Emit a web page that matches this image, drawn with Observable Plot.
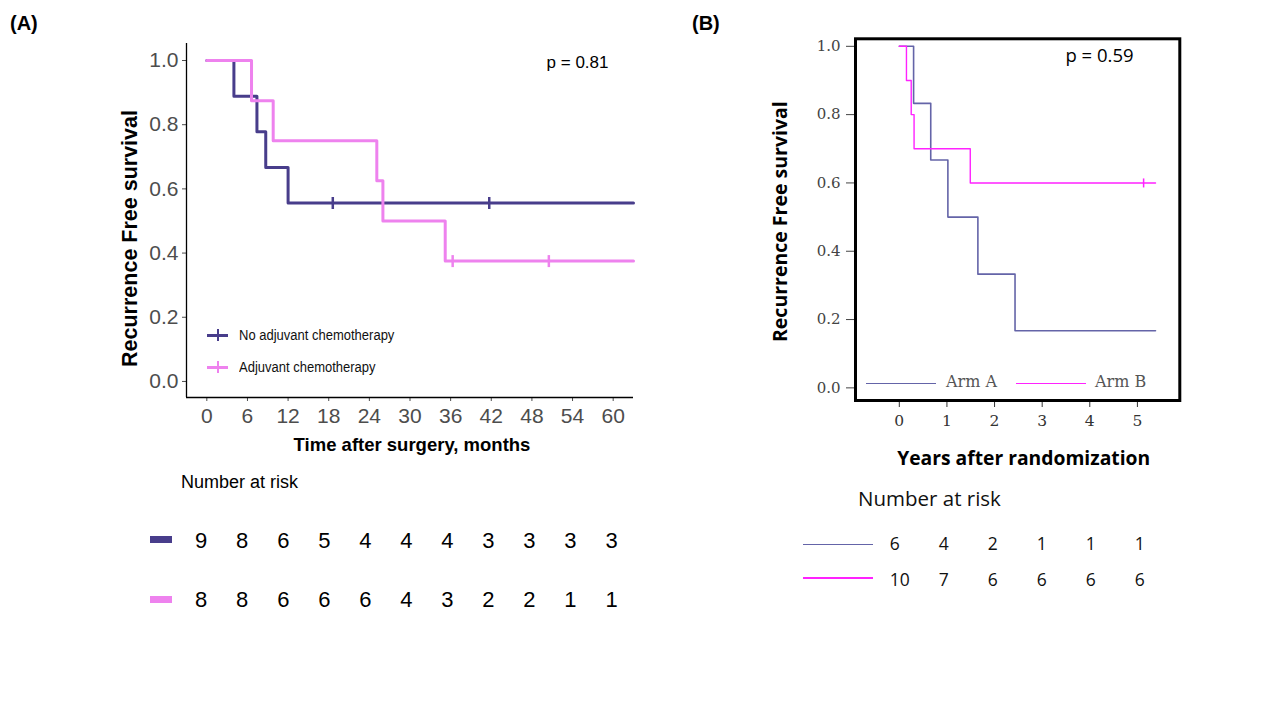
<!DOCTYPE html>
<html>
<head>
<meta charset="utf-8">
<script src="https://cdn.jsdelivr.net/npm/d3@7"></script>
<script src="https://cdn.jsdelivr.net/npm/@observablehq/plot@0.6"></script>
<style>
  html, body { margin: 0; padding: 0; background: #fff; }
  #root { position: relative; width: 1280px; height: 720px; background: #fff; overflow: hidden; }
  .abs { position: absolute; }
  .panel-label { font-family: "Liberation Sans", Arial, sans-serif; font-weight: bold; font-size: 20px; color: #000; }
  .lgA { font-family: "Liberation Sans", Arial, sans-serif; font-size: 13px; color: #111; line-height: 1; white-space: nowrap; transform: scaleY(1.15); transform-origin: left center; }
  .lgB { font-family: "DejaVu Serif", serif; font-size: 16px; color: #555; line-height: 1; white-space: nowrap; }
  .riskTitleA { font-family: "Liberation Sans", Arial, sans-serif; font-size: 18px; color: #000; line-height: 1; white-space: nowrap; }
  .riskTitleB { font-family: "Open Sans", sans-serif; font-size: 20.5px; color: #111; line-height: 1; white-space: nowrap; }
</style>
</head>
<body>
<div id="root">
  <div class="abs panel-label" style="left:10px; top:12px;">(A)</div>
  <div class="abs panel-label" style="left:692px; top:12px;">(B)</div>
</div>
<script>
// ---------------- Data ----------------
// Panel A (months)
const noAdjTimes = [0, 4, 7.4, 8.7, 12, 63];
const noAdjSurv  = [1, 0.889, 0.778, 0.667, 0.556, 0.556];
const noAdjCensorTimes = [18.6, 41.7];
const noAdjCensorSurv  = [0.556, 0.556];

const adjTimes = [0, 6.6, 9.8, 25.1, 26, 35.2, 63];
const adjSurv  = [1, 0.875, 0.75, 0.625, 0.5, 0.375, 0.375];
const adjCensorTimes = [36.3, 50.5];
const adjCensorSurv  = [0.375, 0.375];

const xTicksA = [0, 6, 12, 18, 24, 30, 36, 42, 48, 54, 60];
const yTicks  = [0, 0.2, 0.4, 0.6, 0.8, 1.0];
const riskTimesA = [0, 6, 12, 18, 24, 30, 36, 42, 48, 54, 60];
const riskNoAdj = [9, 8, 6, 5, 4, 4, 4, 3, 3, 3, 3];
const riskAdj   = [8, 8, 6, 6, 6, 4, 3, 2, 2, 1, 1];
const groupsA = ["No adjuvant chemotherapy", "Adjuvant chemotherapy"];
const pA = "p = 0.81";

// Panel B (years)
const armATimes = [0, 0.3, 0.66, 1.02, 1.65, 2.43, 5.38];
const armASurv  = [1, 0.833, 0.667, 0.5, 0.333, 0.167, 0.167];
const armBTimes = [0, 0.15, 0.25, 0.31, 1.49, 5.38];
const armBSurv  = [1, 0.9, 0.8, 0.7, 0.6, 0.6];
const armBCensorTimes = [5.13];
const armBCensorSurv  = [0.6];
const xTicksB = [0, 1, 2, 3, 4, 5];
const riskTimesB = [0, 1, 2, 3, 4, 5];
const riskArmA = [6, 4, 2, 1, 1, 1];
const riskArmB = [10, 7, 6, 6, 6, 6];
const groupsB = ["Arm A", "Arm B"];
const pB = "p = 0.59";

// ---------------- Styling ----------------
const colNo = "#483D8B", colAdj = "#EE82EE";
const colArmA = "#6464a8", colArmB = "#FF22FF";
const fontA = '"Liberation Sans", Arial, sans-serif';
const fontBTitle = '"Open Sans", sans-serif';
const fontBTick = '"DejaVu Serif", serif';

const zip = (t, s) => t.map((d, i) => ({t: d, s: s[i]}));
const vtick = {draw(ctx, size) { const r = Math.sqrt(size / Math.PI); ctx.moveTo(0, -r); ctx.lineTo(0, r); }};

const root = document.getElementById("root");
function place(el, left, top) {
  el.style.position = "absolute"; el.style.left = left + "px"; el.style.top = top + "px";
  root.appendChild(el); return el;
}
function div(cls, html, left, top, extra) {
  const d = document.createElement("div");
  if (cls) d.className = cls;
  d.innerHTML = html;
  if (extra) Object.assign(d.style, extra);
  return place(d, left, top);
}

// ---------------- Panel A plot ----------------
const xDomA = [-3, 63], yDomA = [-0.05, 1.053];
const plotA = Plot.plot({
  width: 560, height: 440,
  marginLeft: 86, marginTop: 13, marginRight: 27, marginBottom: 73,
  x: {domain: xDomA}, y: {domain: yDomA},
  style: {fontFamily: fontA, fontSize: "21px", background: "white", overflow: "visible"},
  marks: [
    Plot.axisX(xTicksA, {tickSize: 4, tickPadding: 7, color: "#4d4d4d", fontSize: 21, fontFamily: fontA, label: null}),
    Plot.axisY(yTicks, {tickSize: 4, tickPadding: 4, color: "#4d4d4d", fontSize: 21, fontFamily: fontA, tickFormat: d3.format(".1f"), label: null}),
    Plot.ruleX([xDomA[0]], {stroke: "black", strokeWidth: 1.3}),
    Plot.ruleY([yDomA[0]], {stroke: "black", strokeWidth: 1.3}),
    Plot.line(zip(noAdjTimes, noAdjSurv), {x: "t", y: "s", curve: "step-after", stroke: colNo, strokeWidth: 3}),
    Plot.line(zip(adjTimes, adjSurv), {x: "t", y: "s", curve: "step-after", stroke: colAdj, strokeWidth: 3}),
    Plot.dot(zip(noAdjCensorTimes, noAdjCensorSurv), {x: "t", y: "s", symbol: vtick, r: 6, fill: "none", stroke: colNo, strokeWidth: 2.5}),
    Plot.dot(zip(adjCensorTimes, adjCensorSurv), {x: "t", y: "s", symbol: vtick, r: 6, fill: "none", stroke: colAdj, strokeWidth: 2.5}),
    Plot.text([pA], {text: d => d, frameAnchor: "top-right", textAnchor: "end", lineAnchor: "middle", dx: -25, dy: 19, fontSize: 17, fontFamily: fontA, fill: "black"}),
    Plot.text(["Time after surgery, months"], {text: d => d, frameAnchor: "bottom", textAnchor: "middle", lineAnchor: "middle", dx: 2, dy: 48, fontSize: 18.5, fontWeight: "bold", fontFamily: fontA, fill: "black"}),
    Plot.text(["Recurrence Free survival"], {text: d => d, frameAnchor: "left", textAnchor: "middle", lineAnchor: "middle", rotate: -90, dx: -56, dy: 18, fontSize: 21.5, fontWeight: "bold", fontFamily: fontA, fill: "black"})
  ]
});
place(plotA, 100, 30);

// Legend A (inside plot)
function legendA(color, label, top) {
  div(null, "", 207, top - 1.5, {width: "21px", height: "3px", background: color});
  div(null, "", 216.5, top - 6, {width: "2.5px", height: "12px", background: color});
  div("lgA", label, 239, top - 7);
}
legendA(colNo, groupsA[0], 335);
legendA(colAdj, groupsA[1], 367);

// Number at risk A
div("riskTitleA", "Number at risk", 181, 473);
div(null, "", 150, 536, {width: "22px", height: "7px", background: colNo});
div(null, "", 150, 596, {width: "22px", height: "7px", background: colAdj});
const riskDataA = [
  ...riskTimesA.map((t, i) => ({t, g: groupsA[0], n: riskNoAdj[i]})),
  ...riskTimesA.map((t, i) => ({t, g: groupsA[1], n: riskAdj[i]}))
];
const riskA = Plot.plot({
  width: 500, height: 130,
  marginLeft: 60.7, marginRight: 29, marginTop: 0, marginBottom: 0,
  x: {domain: [0, 60], axis: null},
  y: {type: "point", domain: groupsA, range: [40, 99.5], padding: 0, axis: null},
  style: {fontFamily: fontA, background: "transparent", overflow: "visible"},
  marks: [
    Plot.text(riskDataA, {x: "t", y: "g", text: "n", fontSize: 22, fontFamily: fontA, fill: "black"})
  ]
});
place(riskA, 140, 500);

// ---------------- Panel B plot ----------------
const xDomB = [-0.92, 5.89], yDomB = [-0.037, 1.022];
const plotB = Plot.plot({
  width: 430, height: 480,
  marginLeft: 95, marginTop: 8.3, marginRight: 10.7, marginBottom: 110,
  x: {domain: xDomB}, y: {domain: yDomB},
  style: {fontFamily: fontBTick, fontSize: "15px", background: "white", overflow: "visible"},
  marks: [
    Plot.axisX(xTicksB, {tickSize: 7, tickPadding: 7, color: "#333", fontSize: 15.5, fontFamily: fontBTick, label: null}),
    Plot.axisY(yTicks, {tickSize: 9, tickPadding: 6, color: "#444", fontSize: 15, fontFamily: fontBTick, tickFormat: d3.format(".1f"), label: null}),
    Plot.line(zip(armATimes, armASurv), {x: "t", y: "s", curve: "step-after", stroke: colArmA, strokeWidth: 1.6}),
    Plot.line(zip(armBTimes, armBSurv), {x: "t", y: "s", curve: "step-after", stroke: colArmB, strokeWidth: 1.4}),
    Plot.dot(zip(armBCensorTimes, armBCensorSurv), {x: "t", y: "s", symbol: vtick, r: 4.5, fill: "none", stroke: colArmB, strokeWidth: 1.5}),
    Plot.frame({stroke: "black", strokeWidth: 3}),
    Plot.text([pB], {text: d => d, frameAnchor: "top-left", textAnchor: "start", lineAnchor: "middle", dx: 210, dy: 17, fontSize: 18.5, fontFamily: fontBTitle, fill: "black"}),
    Plot.text(["Years after randomization"], {text: d => d, frameAnchor: "bottom", textAnchor: "middle", lineAnchor: "middle", dx: 6, dy: 58, fontSize: 19.3, fontWeight: "bold", fontFamily: fontBTitle, fill: "black"}),
    Plot.text(["Recurrence Free survival"], {text: d => d, frameAnchor: "left", textAnchor: "middle", lineAnchor: "middle", rotate: -90, dx: -75, dy: 2, fontSize: 19.5, fontWeight: "bold", fontFamily: fontBTitle, fill: "black"})
  ]
});
place(plotB, 760, 30);

// Legend B (inside plot)
div(null, "", 866, 382.5, {width: "70px", height: "1.5px", background: colArmA});
div("lgB", groupsB[0], 946, 374);
div(null, "", 1016, 382.5, {width: "70px", height: "1.5px", background: colArmB});
div("lgB", groupsB[1], 1095, 374);

// Number at risk B
div("riskTitleB", "Number at risk", 858, 488);
div(null, "", 803, 543.5, {width: "70px", height: "1.5px", background: colArmA});
div(null, "", 803, 577, {width: "70px", height: "1.5px", background: colArmB});
const riskDataB = [
  ...riskTimesB.map((t, i) => ({t, g: groupsB[0], n: riskArmA[i]})),
  ...riskTimesB.map((t, i) => ({t, g: groupsB[1], n: riskArmB[i]}))
];
const riskB = Plot.plot({
  width: 380, height: 100,
  marginLeft: 889.3 - 800, marginRight: 1180 - 1134.3, marginTop: 0, marginBottom: 0,
  x: {domain: [0, 5], axis: null},
  y: {type: "point", domain: groupsB, range: [43.5, 80], padding: 0, axis: null},
  style: {fontFamily: fontBTitle, background: "transparent", overflow: "visible"},
  marks: [
    Plot.text(riskDataB, {x: "t", y: "g", text: "n", textAnchor: "start", fontSize: 17.5, fontFamily: fontBTitle, fill: "#111"})
  ]
});
place(riskB, 800, 500);
</script>
</body>
</html>
